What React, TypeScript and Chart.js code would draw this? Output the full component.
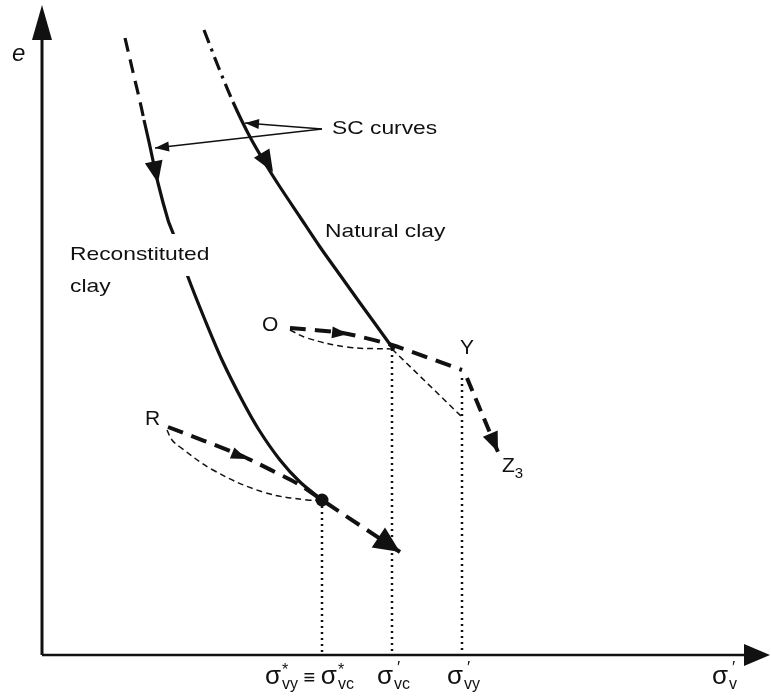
import { useEffect, useRef } from "react";
import { Chart, registerables } from "chart.js";

Chart.register(...registerables);

// Schematic e – σ'v plane (arbitrary units, origin at the axes corner)
const X_MIN = -42;
const X_MAX = 729;
const E_MIN = -45;
const E_MAX = 655;

// Sedimentation compression curve, reconstituted clay
const reconX = [83, 91, 99, 102, 107, 116, 126, 131, 139, 146, 163, 180, 200, 217, 238, 258, 280];
const reconE = [617, 583, 549, 535, 513, 472, 435, 422, 400, 378, 335, 295, 255, 225, 195, 173, 155];
const reconDashedTo = 3;

// Sedimentation compression curve, natural clay
const naturalX = [162, 176, 191, 208, 226, 238, 258, 278, 298, 318, 334, 352];
const naturalE = [625, 589, 553, 518, 487, 468, 438, 408, 380, 352, 330, 305];
const naturalDashedTo = 2;

// Loading path O → Y → Z3 (natural clay)
const pathOX = [248, 301, 350, 420];
const pathOE = [327, 322, 310, 285];
const pathZX = [425, 456];
const pathZE = [277, 203];

// Construction line from O
const guideOX = [248, 265, 305, 350];
const guideOE = [325, 317, 308, 306];
const guideYX = [350, 420];
const guideYE = [306, 238];

// Loading path from R (reconstituted clay)
const pathRX = [126, 198, 258, 280, 358];
const pathRE = [228, 200, 170, 155, 103];
const guideRX = [125, 130, 138, 171, 221, 265, 280];
const guideRE = [225, 215, 208, 185, 163, 155, 155];

// Yield / critical stresses on the σ'v axis
const stressX = [280, 350, 420];
const stressTopE = [155, 306, 277];

// Yield point on the reconstituted curve
const yieldX = [280];
const yieldE = [155];

// "SC curves" pointers
const pointerFrom = [280, 526];
const pointerToX = [203, 113];
const pointerToE = [532, 507];

const FONT = '"Liberation Sans", Arial, Helvetica, sans-serif';
const INK = "#111111";

const pts = (xs: number[], ys: number[]) => xs.map((x, i) => ({ x, y: ys[i] }));

type Arrow = { tip: [number, number]; from: [number, number]; len: number; hw: number };

const arrows: Arrow[] = [
  { tip: [116, 472], from: [112, 492], len: 22, hw: 9 },
  { tip: [231, 483], from: [213, 513], len: 22, hw: 9 },
  { tip: [pointerToX[0], pointerToE[0]], from: [pointerFrom[0], pointerFrom[1]], len: 14, hw: 5 },
  { tip: [pointerToX[1], pointerToE[1]], from: [pointerFrom[0], pointerFrom[1]], len: 14, hw: 5 },
  { tip: [306, 321], from: [248, 327], len: 16, hw: 6 },
  { tip: [456, 203], from: [425, 277], len: 20, hw: 8 },
  { tip: [205, 196], from: [126, 228], len: 16, hw: 6 },
  { tip: [358, 103], from: [280, 155], len: 26, hw: 12 },
  { tip: [0, 650], from: [0, 0], len: 35, hw: 10 },
  { tip: [728, 0], from: [0, 0], len: 26, hw: 11 },
];

type Label = {
  text: string;
  x: number;
  y: number;
  size: number;
  stretch?: number;
  italic?: boolean;
  mask?: boolean;
};

const labels: Label[] = [
  { text: "e", x: -30, y: 601, size: 24, italic: true },
  { text: "SC curves", x: 290, y: 526, size: 19, stretch: 1.2 },
  { text: "Natural clay", x: 283, y: 423, size: 19, stretch: 1.2 },
  { text: "Reconstituted", x: 28, y: 400, size: 19, stretch: 1.2, mask: true },
  { text: "clay", x: 28, y: 368, size: 19, stretch: 1.2 },
  { text: "O", x: 220, y: 330, size: 21 },
  { text: "Y", x: 418, y: 307, size: 21 },
  { text: "R", x: 103, y: 236, size: 21 },
];

// σ labels along the horizontal axis: [σ sup, sub] pieces
const sigmaLabels: { x: number; parts: [string, string][] }[] = [
  { x: 223, parts: [["*", "vy"], ["*", "vc"]] },
  { x: 335, parts: [["′", "vc"]] },
  { x: 405, parts: [["′", "vy"]] },
  { x: 670, parts: [["′", "v"]] },
];

export default function App() {
  const ref = useRef<HTMLCanvasElement | null>(null);

  useEffect(() => {
    const canvas = ref.current;
    if (!canvas) return;

    const line = (
      label: string,
      xs: number[],
      ys: number[],
      width: number,
      dash: number[],
      tension = 0,
      extra: any = {}
    ) => ({
      label,
      data: pts(xs, ys),
      showLine: true,
      borderColor: INK,
      backgroundColor: INK,
      borderWidth: width,
      borderDash: dash,
      borderCapStyle: "butt",
      pointRadius: 0,
      tension,
      ...extra,
    });

    const scLineWidth = 3.2;

    const decor = {
      id: "decor",
      beforeDraw(chart: any) {
        const c = chart.ctx;
        c.save();
        c.fillStyle = "#ffffff";
        c.fillRect(0, 0, chart.width, chart.height);
        c.restore();
      },
      afterDatasetsDraw(chart: any) {
        const c: CanvasRenderingContext2D = chart.ctx;
        const sx = chart.scales.x;
        const sy = chart.scales.y;
        const px = (v: number) => sx.getPixelForValue(v);
        const py = (v: number) => sy.getPixelForValue(v);

        c.save();
        c.fillStyle = INK;
        c.textBaseline = "middle";
        c.textAlign = "left";

        // labels (with white knock-out where the curve passes behind)
        for (const l of labels) {
          const k = l.stretch ?? 1;
          c.font = `${l.italic ? "italic " : ""}${l.size}px ${FONT}`;
          const w = c.measureText(l.text).width * k;
          const lx = px(l.x);
          const ly = py(l.y);
          if (l.mask) {
            c.fillStyle = "#ffffff";
            c.fillRect(lx - 4, ly - 21, w + 8, 42);
            c.fillStyle = INK;
          }
          c.save();
          c.translate(lx, ly);
          c.scale(k, 1);
          c.fillText(l.text, 0, 0);
          c.restore();
        }

        // Z with subscript 3
        c.font = `21px ${FONT}`;
        const zx = px(460);
        const zy = py(189);
        c.fillText("Z", zx, zy);
        const zw = c.measureText("Z").width;
        c.font = `15px ${FONT}`;
        c.fillText("3", zx + zw, zy + 8);

        // σ labels under the axis
        c.textBaseline = "alphabetic";
        const base = py(-29);
        for (const s of sigmaLabels) {
          let x = px(s.x);
          s.parts.forEach(([sup, sub], i) => {
            if (i > 0) {
              c.font = `20px ${FONT}`;
              c.fillText(" ≡ ", x, base);
              x += c.measureText(" ≡ ").width;
            }
            c.font = `26px ${FONT}`;
            c.fillText("σ", x, base);
            x += c.measureText("σ").width + 1;
            c.font = `${sup === "*" ? 16 : 17}px ${FONT}`;
            c.fillText(sup, x + (sup === "*" ? 0 : 3), base - (sup === "*" ? 9 : 11));
            const supW = c.measureText(sup).width;
            c.font = `16px ${FONT}`;
            c.fillText(sub, x, base + 5);
            x += Math.max(supW, c.measureText(sub).width);
          });
        }

        // arrowheads
        for (const a of arrows) {
          const tx = px(a.tip[0]);
          const ty = py(a.tip[1]);
          const fx = px(a.from[0]);
          const fy = py(a.from[1]);
          const d = Math.hypot(tx - fx, ty - fy) || 1;
          const ux = (tx - fx) / d;
          const uy = (ty - fy) / d;
          const bx = tx - ux * a.len;
          const by = ty - uy * a.len;
          c.beginPath();
          c.moveTo(tx, ty);
          c.lineTo(bx - uy * a.hw, by + ux * a.hw);
          c.lineTo(bx + uy * a.hw, by - ux * a.hw);
          c.closePath();
          c.fill();
        }
        c.restore();
      },
    };

    const datasets: any[] = [
      line("axis-e", [0, 0], [0, 640], 3, []),
      line("axis-sigma", [0, 720], [0, 0], 2.6, []),
      ...stressX.map((x, i) => line(`stress-${i}`, [x, x], [stressTopE[i], 0], 2.5, [2, 4])),
      line("guide-O", guideOX, guideOE, 1.5, [6, 4], 0.4),
      line("guide-Y", guideYX, guideYE, 1.5, [6, 4]),
      line("guide-R", guideRX, guideRE, 1.5, [6, 4], 0.4),
      line("reconstituted", reconX, reconE, scLineWidth, [], 0.3, {
        segment: {
          borderDash: (ctx: any) => (ctx.p1DataIndex <= reconDashedTo ? [14, 8] : []),
        },
      }),
      line("natural", naturalX, naturalE, scLineWidth, [], 0.3, {
        segment: {
          borderDash: (ctx: any) => (ctx.p1DataIndex <= naturalDashedTo ? [14, 6, 3, 6] : []),
        },
      }),
      line("path-O", pathOX, pathOE, 4, [16, 9], 0.2),
      line("path-Z", pathZX, pathZE, 4, [14, 8]),
      line("path-R", pathRX, pathRE, 4, [16, 9], 0.2),
      ...pointerToX.map((x, i) =>
        line(`pointer-${i}`, [pointerFrom[0], x], [pointerFrom[1], pointerToE[i]], 1.6, [])
      ),
      {
        label: "yield",
        data: pts(yieldX, yieldE),
        showLine: false,
        pointRadius: 6.5,
        pointBackgroundColor: INK,
        pointBorderWidth: 0,
      },
    ];

    const chart = new Chart(canvas, {
      type: "scatter",
      data: { datasets },
      options: {
        animation: false,
        responsive: false,
        devicePixelRatio: 1,
        layout: { padding: 0, autoPadding: false },
        plugins: { legend: { display: false }, tooltip: { enabled: false } },
        events: [],
        scales: {
          x: { type: "linear", min: X_MIN, max: X_MAX, display: false },
          y: { type: "linear", min: E_MIN, max: E_MAX, display: false },
        },
      },
      plugins: [decor],
    });

    return () => chart.destroy();
  }, []);

  return (
    <div style={{ position: "absolute", left: 0, top: 0, width: 771, height: 700, background: "#fff" }}>
      <canvas ref={ref} width={771} height={700} style={{ display: "block", width: 771, height: 700 }} />
    </div>
  );
}
